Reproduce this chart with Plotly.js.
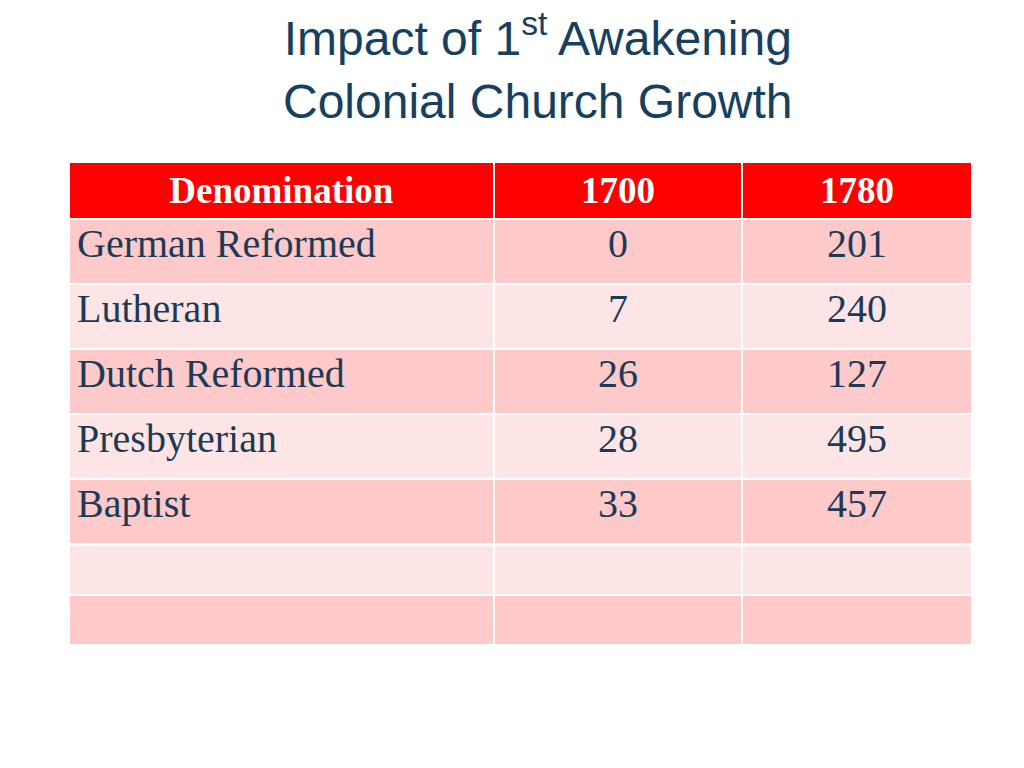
<!DOCTYPE html>
<html>
<head>
<meta charset="utf-8">
<script src="https://cdn.plot.ly/plotly-3.0.1.min.js"></script>
<style>
  html, body { margin: 0; padding: 0; background: #ffffff; }
  #chart { width: 1024px; height: 768px; }
</style>
</head>
<body>
<div id="chart"></div>
<script>
// Table data
const headers = ['Denomination', '1700', '1780'];
const denominations = ['German Reformed', 'Lutheran', 'Dutch Reformed', 'Presbyterian', 'Baptist'];
const churches1700 = [0, 7, 26, 28, 33];
const churches1780 = [201, 240, 127, 495, 457];

// Colours
const headerRed = '#ff0000';
const rowDark = '#fdc9c9';
const rowLight = '#fee5e5';
const textBlue = '#1c3a56';

// Alternating row fills, same for every column
const rowFills = denominations.map((d, i) => (i % 2 === 0 ? rowDark : rowLight));

const mainTable = {
    type: 'table',
    domain: { x: [69 / 1024, 972 / 1024], y: [1 - 645 / 768, 1 - 162 / 768] },
    columnwidth: [425, 248, 230],
    header: {
        values: headers.map(h => '<b>' + h + '</b>'),
        align: 'center',
        height: 57,
        fill: { color: headerRed },
        line: { color: 'white', width: 2 },
        font: { family: 'Liberation Serif, serif', size: 37, color: 'white' }
    },
    cells: {
        values: [denominations, churches1700, churches1780],
        align: ['left', 'center', 'center'],
        height: 65,
        fill: { color: [rowFills, rowFills, rowFills] },
        line: { color: 'white', width: 2 },
        font: { family: 'Liberation Serif, serif', size: 40, color: textBlue }
    }
};

// Two empty trailing rows (shorter than the data rows)
const emptyTable = {
    type: 'table',
    domain: { x: [69 / 1024, 972 / 1024], y: [1 - 647 / 768, 1 - 545 / 768] },
    columnwidth: [425, 248, 230],
    header: {
        values: ['', '', ''],
        height: 50,
        fill: { color: rowLight },
        line: { color: 'white', width: 2 }
    },
    cells: {
        values: [[''], [''], ['']],
        height: 50,
        fill: { color: rowDark },
        line: { color: 'white', width: 2 }
    }
};

const layout = {
    width: 1024,
    height: 768,
    margin: { l: 0, r: 0, t: 0, b: 0 },
    paper_bgcolor: 'white',
    showlegend: false,
    annotations: [{
        text: 'Impact of 1<sup>st</sup> Awakening<br>Colonial Church Growth',
        x: 538 / 1024,
        y: 1 - 66 / 768,
        xref: 'paper',
        yref: 'paper',
        xanchor: 'center',
        yanchor: 'middle',
        showarrow: false,
        align: 'center',
        font: { family: 'Liberation Sans, sans-serif', size: 48, color: '#173f5f' }
    }]
};

Plotly.newPlot('chart', [mainTable, emptyTable], layout, { displayModeBar: false, staticPlot: true });
</script>
</body>
</html>
